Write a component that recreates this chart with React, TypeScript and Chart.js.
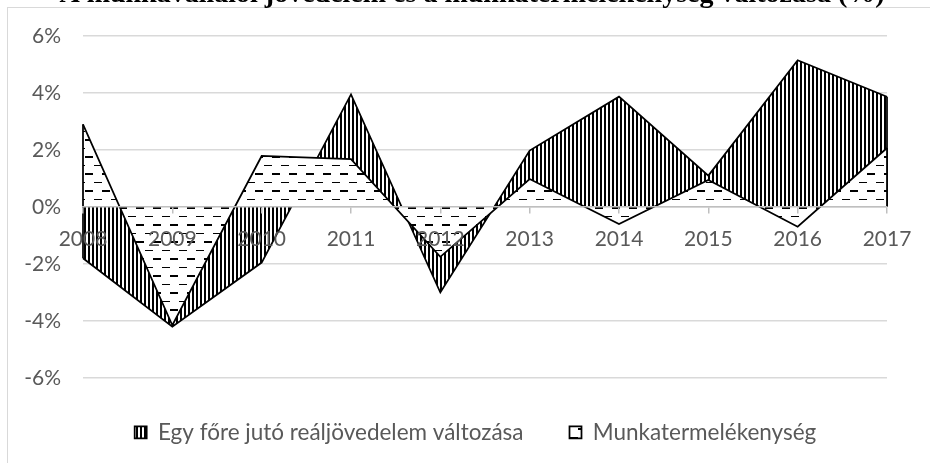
import React, { useEffect, useRef } from 'react';
import { Chart, registerables } from 'chart.js';

Chart.register(...registerables);

const TITLE = 'A munkavállalói jövedelem és a munkatermelékenység változása (%)';
const years = ['2008', '2009', '2010', '2011', '2012', '2013', '2014', '2015', '2016', '2017'];
const incomeLabel = 'Egy főre jutó reáljövedelem változása';
const incomeChange = [-1.8, -4.2, -1.95, 3.95, -3.0, 1.98, 3.87, 1.1, 5.15, 3.87];
const productivityLabel = 'Munkatermelékenység';
const productivity = [2.9, -4.15, 1.79, 1.68, -1.75, 0.98, -0.6, 0.95, -0.69, 2.07];
const yMin = -6;
const yMax = 6;
const yStep = 2;

const FONT = 'Lato';
const TICK_SIZE = 21;
const LEGEND_SIZE = 22.5;
const TEXT_COLOR = '#595959';

function stripePattern(ctx: CanvasRenderingContext2D) {
  const c = document.createElement('canvas');
  c.width = 4;
  c.height = 4;
  const g = c.getContext('2d')!;
  g.fillStyle = '#ffffff';
  g.fillRect(0, 0, 4, 4);
  g.fillStyle = '#000000';
  g.fillRect(0, 0, 2, 4);
  return ctx.createPattern(c, 'repeat')!;
}

function dashPattern(ctx: CanvasRenderingContext2D) {
  const c = document.createElement('canvas');
  c.width = 17;
  c.height = 17;
  const g = c.getContext('2d')!;
  g.fillStyle = '#ffffff';
  g.fillRect(0, 0, 17, 17);
  g.fillStyle = '#000000';
  g.fillRect(0, 3, 8, 2);
  g.fillRect(9, 12, 8, 1);
  return ctx.createPattern(c, 'repeat')!;
}

const decorPlugin = {
  id: 'decor',
  afterLayout(chart: any) {
    const lg = chart.legend;
    if (lg) {
      lg.left += 32;
      lg.right += 32;
      lg.top -= 3;
      lg.bottom -= 3;
    }
  },
  beforeDraw(chart: any) {
    const ctx = chart.ctx;
    ctx.save();
    ctx.strokeStyle = '#d9d9d9';
    ctx.lineWidth = 1;
    ctx.strokeRect(7.5, 7.5, 2000, 2000);
    ctx.restore();
  },
  afterDatasetDraw(chart: any, args: any) {
    const pts = args.meta.data;
    if (!pts || !pts.length) return;
    const y0 = chart.scales.y.getPixelForValue(0);
    const ctx = chart.ctx;
    ctx.save();
    ctx.strokeStyle = '#000000';
    ctx.lineWidth = 1.75;
    [pts[0], pts[pts.length - 1]].forEach((p: any) => {
      ctx.beginPath();
      ctx.moveTo(p.x, y0);
      ctx.lineTo(p.x, p.y);
      ctx.stroke();
    });
    ctx.restore();
  },
  afterDraw(chart: any) {
    const ctx = chart.ctx;
    ctx.save();
    ctx.font = 'bold 28px "Liberation Serif"';
    ctx.fillStyle = '#000000';
    ctx.textAlign = 'center';
    ctx.textBaseline = 'alphabetic';
    ctx.fillText(TITLE, 472, 1.5);
    ctx.restore();
  },
};

export default function App() {
  const ref = useRef<HTMLCanvasElement>(null);

  useEffect(() => {
    const canvas = ref.current!;
    const ctx = canvas.getContext('2d')!;
    const stripes = stripePattern(ctx);
    const dashes = dashPattern(ctx);
    const tickFont = { family: FONT, size: TICK_SIZE };
    const legendFont = { family: FONT, size: LEGEND_SIZE };

    const chart = new Chart(ctx, {
      type: 'line',
      data: {
        labels: years,
        datasets: [
          {
            label: incomeLabel,
            data: incomeChange,
            order: 1,
            fill: 'origin',
            backgroundColor: stripes,
            borderColor: '#000000',
            borderWidth: 1.75,
            pointRadius: 0,
            tension: 0,
          },
          {
            label: productivityLabel,
            data: productivity,
            order: 0,
            fill: 'origin',
            backgroundColor: dashes,
            borderColor: '#000000',
            borderWidth: 1.75,
            pointRadius: 0,
            tension: 0,
          },
        ],
      },
      options: {
        responsive: false,
        maintainAspectRatio: false,
        animation: false,
        layout: { padding: { top: 36, right: 43, bottom: 6.5, left: 0 } },
        scales: {
          x: {
            type: 'category',
            offset: false,
            position: { y: 0 },
            grid: {
              drawOnChartArea: false,
              drawTicks: true,
              tickLength: 6,
              color: '#bfbfbf',
              lineWidth: 1.5,
              z: 1,
            },
            border: { color: '#bfbfbf', width: 1.5, z: 1 },
            ticks: {
              color: TEXT_COLOR,
              font: tickFont,
              padding: 14,
              maxRotation: 0,
              autoSkip: false,
              z: 1,
            },
          },
          y: {
            min: yMin,
            max: yMax,
            ticks: {
              stepSize: yStep,
              callback: (v: any) => v + '%',
              padding: 22,
              color: TEXT_COLOR,
              font: tickFont,
            },
            grid: { color: '#d9d9d9', lineWidth: 1.5, drawTicks: false },
            border: { display: false },
            afterFit: (s: any) => {
              s.width = 83;
            },
          },
        },
        plugins: {
          tooltip: { enabled: false },
          title: { display: false },
          legend: {
            position: 'bottom',
            labels: {
              sort: (a: any, b: any) => a.datasetIndex - b.datasetIndex,
              boxWidth: 12,
              boxHeight: 12,
              padding: 46,
              color: TEXT_COLOR,
              font: legendFont,
            },
          },
        },
      },
      plugins: [decorPlugin],
    } as any);

    return () => chart.destroy();
  }, []);

  return (
    <div style={{ position: 'absolute', left: 0, top: 0, width: 930, height: 463, overflow: 'hidden', background: '#ffffff' }}>
      <canvas ref={ref} width={930} height={463} />
    </div>
  );
}
